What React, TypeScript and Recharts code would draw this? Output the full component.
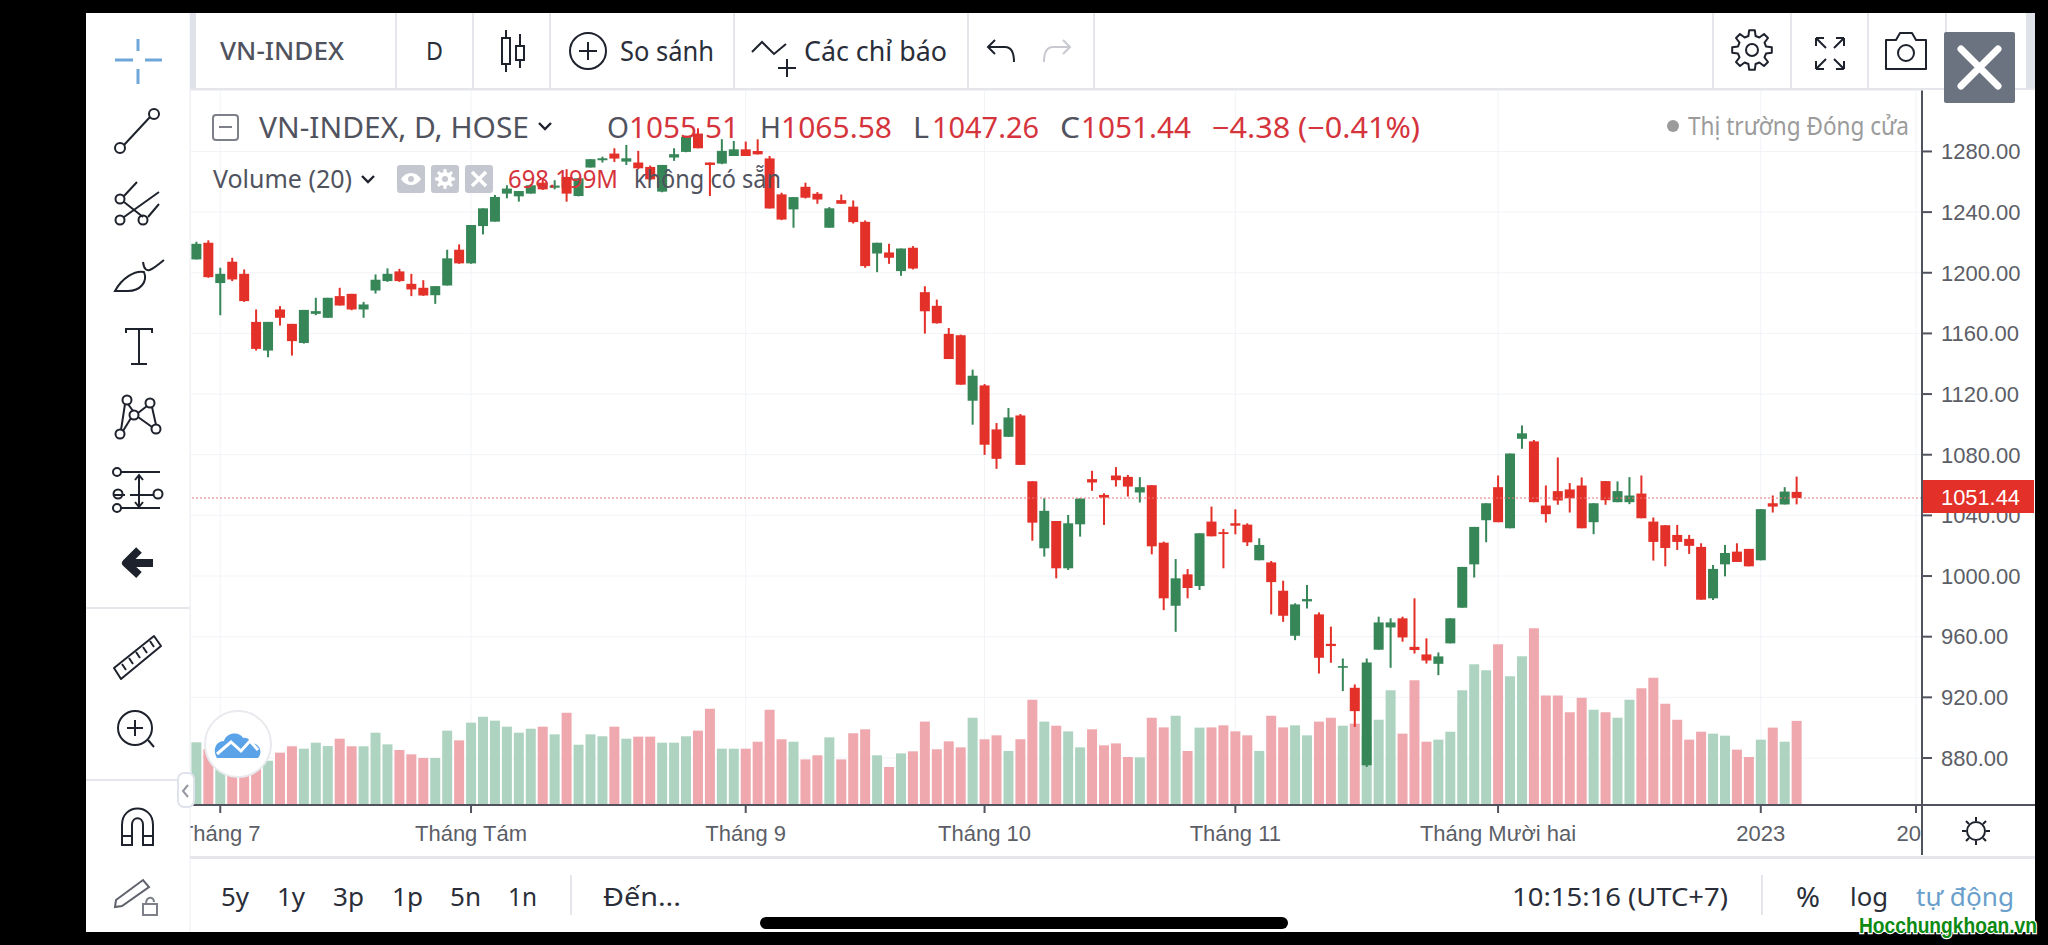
import { Bar, CartesianGrid, Cell, ComposedChart, ReferenceLine, XAxis, YAxis } from "recharts";

const opens = [
    1208.8, 1219.8, 1193.2, 1207.3, 1199.3, 1167.6, 1148.7, 1175.8, 1166.3, 1153.7,
    1172.9, 1170.3, 1184.6, 1186.1, 1175.8, 1188.3, 1194.5, 1200.9, 1192.7, 1190.1,
    1185.2, 1191.6, 1215.2, 1206.2, 1230.8, 1233.7, 1252.2, 1250.4, 1252.2, 1259.4,
    1256.1, 1263.2, 1250.6, 1269.4, 1274.2, 1278.6, 1273.3, 1272.7, 1269.8, 1253.5,
    1276, 1279.7, 1291.8, 1272.7, 1272, 1277, 1281.4, 1280.3, 1275.4, 1251.7,
    1241.8, 1256.7, 1252.1, 1229.7, 1247.9, 1243.6, 1233.6, 1212.7, 1213.4, 1201.1,
    1216.5, 1187.2, 1178.2, 1159.7, 1158.8, 1115.6, 1125.7, 1096.7, 1091.8, 1105.9,
    1062.5, 1018.3, 1036.3, 1005.1, 1034.1, 1063.9, 1053.5, 1066.3, 1065.4, 1055.1,
    1059.9, 1022, 980.4, 1001.1, 993.4, 1035.9, 1028.9, 1034.8, 1033.9, 1010.4,
    1009, 990.3, 960.6, 983.3, 974.7, 955.3, 939.5, 926.3, 875.2, 951.4,
    966.1, 972.1, 953.3, 948.3, 942.1, 955.6, 979.1, 1007.7, 1036.8, 1058.6,
    1031.5, 1090.5, 1088.8, 1046.5, 1056, 1057.1, 1059.7, 1035.5, 1062.6, 1048.7,
    1048.7, 1054.4, 1035.9, 1033.5, 1027.1, 1024.5, 1019.2, 985.3, 1007.7, 1016.1,
    1017.9, 1010.4, 1048, 1047.2, 1055.51,
];
const closes = [
    1219.1, 1197.1, 1199.3, 1195.6, 1181.3, 1149.8, 1167.6, 1170.3, 1154.9, 1175.5,
    1174.7, 1183.5, 1178.4, 1175.8, 1179.1, 1195.4, 1199.3, 1194.5, 1189, 1185,
    1191.2, 1209.5, 1206.2, 1231.5, 1242.5, 1250, 1255.5, 1253.9, 1257.7, 1255,
    1257.5, 1252.2, 1262.3, 1274.9, 1275.5, 1275.3, 1275.5, 1268.9, 1261.6, 1271.1,
    1278.2, 1289.6, 1282.1, 1271.1, 1280.4, 1281.4, 1277, 1278.1, 1242.4, 1235.1,
    1249.9, 1249.5, 1248.3, 1242.5, 1245.5, 1233.4, 1204.4, 1219.8, 1209.9, 1216,
    1202.8, 1174.6, 1166.7, 1143.1, 1126.2, 1132.1, 1086.6, 1077.3, 1104.6, 1073.3,
    1035.2, 1043, 1005.1, 1034.8, 1051.1, 1061.7, 1051.7, 1063.2, 1059, 1058.6,
    1019.6, 985.3, 998.5, 992.1, 1028.2, 1026.2, 1027.7, 1033.2, 1022.2, 1020.5,
    996, 973.8, 981.3, 984.8, 946.1, 953.8, 940.6, 910.9, 943, 969.4,
    969.4, 959.5, 951.2, 944.3, 947, 972.1, 1006, 1032.4, 1048, 1035.5,
    1080.8, 1094.1, 1048.7, 1040.8, 1049.8, 1051.3, 1031.5, 1048, 1050, 1056,
    1053.1, 1038.1, 1022.5, 1018.5, 1022.5, 1019.9, 984.4, 1004.7, 1015.2, 1009.3,
    1006.4, 1044.1, 1045.8, 1055.7, 1051.44,
];
const highs = [
    1220.5, 1221.4, 1203.3, 1209.9, 1202.2, 1175.8, 1167.6, 1178, 1166.3, 1175.5,
    1183.5, 1183.5, 1190.1, 1186.1, 1180.8, 1198.9, 1202.9, 1202.6, 1199.3, 1195.1,
    1191.2, 1215.2, 1218.7, 1231.5, 1242.5, 1251.3, 1257.7, 1253.9, 1258.3, 1261.6,
    1261, 1268.3, 1262.3, 1274.9, 1276.6, 1282.1, 1284.3, 1280.4, 1270.7, 1271.1,
    1282.1, 1290.3, 1295.3, 1272.7, 1288.1, 1286.9, 1286.5, 1288, 1277, 1252.8,
    1249.9, 1259.4, 1253.2, 1243.3, 1251.6, 1247.7, 1234.5, 1219.8, 1219.1, 1216,
    1217.6, 1191.1, 1182.3, 1163.6, 1159.2, 1136.1, 1126.6, 1100.9, 1110.8, 1106.8,
    1062.5, 1051.3, 1036.3, 1040.3, 1051.1, 1069.4, 1054.6, 1071.8, 1066.7, 1065.2,
    1059.9, 1022.7, 1011.2, 1004.6, 1028.2, 1045.8, 1031.1, 1044, 1034.8, 1024.9,
    1009.9, 996.9, 982, 994.1, 976, 966.6, 945.6, 928.5, 945.6, 973.2,
    972.1, 973.2, 985.3, 958.9, 949.6, 972.1, 1006, 1032.4, 1048, 1066.3,
    1080.8, 1099.3, 1089.7, 1059.7, 1078.2, 1061.3, 1065, 1048, 1062.6, 1062.4,
    1065.2, 1066.3, 1038.6, 1033.5, 1033.7, 1027.1, 1021.6, 1007.3, 1020.5, 1021.6,
    1017.9, 1044.1, 1053.1, 1058.6, 1065.58,
];
const lows = [
    1208.8, 1196.7, 1172, 1194.5, 1180.8, 1148.7, 1144.3, 1165.2, 1145.4, 1153.3,
    1172, 1170.3, 1178.4, 1175.3, 1170.3, 1186.3, 1194, 1194, 1184.6, 1184.8,
    1179.5, 1191.6, 1205.9, 1205.9, 1225.3, 1233.7, 1249.1, 1246.9, 1252.2, 1254.6,
    1255, 1246.9, 1250.4, 1269.4, 1272.7, 1273.1, 1271.1, 1268.3, 1261, 1253.1,
    1273.8, 1279.5, 1282.1, 1250.6, 1271.6, 1277, 1277, 1278, 1242.4, 1234.7,
    1229.7, 1249, 1245.5, 1229.7, 1245.5, 1232.5, 1203.3, 1200.4, 1205.9, 1198,
    1202.2, 1159.9, 1166.5, 1143.1, 1126.2, 1099.8, 1079.9, 1070.7, 1091.8, 1073.3,
    1023.3, 1012.8, 998.5, 1004, 1026, 1056.2, 1033.7, 1059, 1052.4, 1048.5,
    1014.3, 977.5, 963.2, 985.3, 990.8, 1026.2, 1005.1, 1027.5, 1019.8, 1010.4,
    974.7, 969.8, 957.7, 978.6, 935.7, 942.8, 924.1, 900.5, 874.1, 951.4,
    939.5, 956.7, 948.9, 942.3, 934.6, 955.6, 979.1, 999, 1022.3, 1035.5,
    1031.5, 1083.9, 1048.7, 1035.3, 1047, 1041.9, 1031.5, 1027.6, 1047, 1048.7,
    1047.4, 1038.1, 1010.2, 1006.4, 1017.2, 1014.6, 984.4, 984.2, 999.8, 1009.3,
    1006.4, 1010.4, 1041.9, 1047.2, 1047.26,
];
// millions of shares
const volumes = [
    521, 465, 438, 410, 410, 440, 368, 435, 488, 468,
    518, 490, 551, 488, 488, 601, 504, 457, 421, 391,
    391, 618, 537, 684, 734, 701, 651, 601, 634, 651,
    587, 767, 501, 587, 571, 651, 551, 568, 568, 518,
    518, 571, 618, 800, 468, 468, 468, 526, 792, 546,
    526, 379, 413, 562, 379, 596, 629, 413, 316, 429,
    446, 693, 463, 529, 479, 726, 546, 579, 449, 546,
    875, 693, 659, 612, 479, 629, 496, 512, 399, 396,
    726, 645, 742, 449, 643, 645, 662, 612, 579, 449,
    742, 645, 662, 579, 693, 726, 659, 676, 582, 709,
    953, 593, 1036, 526, 543, 609, 953, 1169, 1119, 1335,
    1069, 1235, 1468, 909, 909, 770, 892, 792, 770, 726,
    875, 970, 1058, 842, 709, 543, 609, 593, 576, 460,
    399, 543, 643, 526, 699,
];

const priceTicks = [880, 920, 960, 1000, 1040, 1080, 1120, 1160, 1200, 1240, 1280];
const monthTicks = [2, 23, 46, 66, 87, 109, 131, 144];
const monthLabels = ["Tháng 7", "Tháng Tám", "Tháng 9", "Tháng 10", "Tháng 11", "Tháng Mười hai", "2023", "20"];
const lastClose = 1051.44;
const slotCount = 145;

const UP = "#378658";
const DOWN = "#e33028";
const UP_VOL = "#aed4c1";
const DOWN_VOL = "#eea8ae";
const GRAY = "#50535e";
const RED_TEXT = "#d5343c";
const UI_FONT = "'Noto Sans', sans-serif";
const AXIS_FONT = "'Liberation Sans', Arial, sans-serif";

type Row = {
    day: number;
    open?: number;
    close?: number;
    high?: number;
    low?: number;
    range?: [number, number];
    volume?: number;
};

const rows: Row[] = Array.from({ length: slotCount }, (_, day) =>
    day < opens.length
        ? {
              day,
              open: opens[day],
              close: closes[day],
              high: highs[day],
              low: lows[day],
              range: [lows[day], highs[day]] as [number, number],
              volume: volumes[day],
          }
        : { day },
);

const Candle = (props: any) => {
    const { x, y, width, height, payload } = props;
    if (!payload || payload.open === undefined) return <g />;
    const { open, close, high, low } = payload;
    const pxPerPoint = Math.abs(height) / (high - low);
    const top = y + (high - Math.max(open, close)) * pxPerPoint;
    const bodyHeight = Math.max(Math.abs(open - close) * pxPerPoint, 1.5);
    const color = close >= open ? UP : DOWN;
    return (
        <g>
            <rect x={x + width / 2 - 1} y={y} width={2} height={Math.abs(height)} fill={color} />
            <rect x={x} y={top} width={width} height={bodyHeight} fill={color} />
        </g>
    );
};

const MonthTick = (props: any) => {
    const { x, y, payload } = props;
    const label = monthLabels[monthTicks.indexOf(payload.value)];
    const clipped = label === "20";
    return (
        <text
            x={clipped ? x + 5 : x}
            y={y + 26}
            textAnchor={clipped ? "end" : "middle"}
            fill="#5b5e66"
            fontSize={22}
            fontFamily={AXIS_FONT}
        >
            {label}
        </text>
    );
};

// text placed by left edge, centre line and target width
const T = ({
    x,
    y,
    w,
    s,
    fill = GRAY,
    size = 27,
    weight = 400,
    font = UI_FONT,
}: {
    x: number;
    y: number;
    w: number;
    s: string;
    fill?: string;
    size?: number;
    weight?: number;
    font?: string;
}) => (
    <text
        x={x}
        y={y}
        textLength={w}
        lengthAdjust="spacingAndGlyphs"
        dominantBaseline="central"
        fill={fill}
        fontSize={size}
        fontWeight={weight}
        fontFamily={font}
    >
        {s}
    </text>
);

const Chevron = ({ x, y }: { x: number; y: number }) => (
    <path d={`M${x - 6} ${y - 3}L${x} ${y + 3}L${x + 6} ${y - 3}`} fill="none" stroke="#1e222d" strokeWidth={2.4} />
);

const gearPath = (cx: number, cy: number, outer: number, inner: number, teeth: number) => {
    const parts: string[] = [];
    for (let i = 0; i < teeth; i++) {
        const step = (Math.PI * 2) / teeth;
        const a = i * step - Math.PI / 2;
        const pts: [number, number][] = [
            [inner, a - step * 0.32],
            [outer, a - step * 0.18],
            [outer, a + step * 0.18],
            [inner, a + step * 0.32],
        ];
        pts.forEach(([r, t]) => {
            parts.push(`${parts.length ? "L" : "M"}${(cx + r * Math.cos(t)).toFixed(1)} ${(cy + r * Math.sin(t)).toFixed(1)}`);
        });
    }
    return parts.join("") + "Z";
};

const LeftTools = () => (
    <g fill="none" stroke="#1e222d" strokeWidth={2}>
        <path d="M115 60H133M145 60H162M138 39V51M138 69V84" stroke="#6ea7d8" strokeWidth={3} />
        <circle cx={120} cy={148} r={5} />
        <circle cx={154} cy={114} r={5} />
        <path d="M124 145L150 117" />
        <circle cx={120} cy={199} r={4.5} />
        <circle cx={120} cy={220} r={4.5} />
        <circle cx={143} cy={220} r={4.5} />
        <path d="M124 196L137 182M124 217L159 192M148 217L159 204M124 202L143 217" />
        <path d="M115 291C122 278 135 270 144 272C148 282 140 291 128 291ZM143 262C145 276 152 270 164 260" />
        <path d="M126 333V329H152V333M139 329V364M131 364H147" />
        <circle cx={127} cy={400} r={4.5} />
        <circle cx={150} cy={403} r={4.5} />
        <circle cx={134} cy={415} r={4.5} />
        <circle cx={120} cy={434} r={4.5} />
        <circle cx={156} cy={429} r={4.5} />
        <path d="M125 404L121 430M128 404L133 411M138 413L147 406M152 407L156 425M138 417L152 427M131 418L123 431" />
        <path d="M120 472H160M125 495H114M130 495H154M120 508H160" />
        <circle cx={117} cy={472} r={4} />
        <circle cx={118} cy={494} r={4.5} />
        <circle cx={158} cy={494} r={4.5} />
        <circle cx={117} cy={508} r={4} />
        <path d="M139 476V506M135 480L139 475L143 480M135 502L139 507L143 502" />
        <path d="M126 563H153M139 550L126 563L139 575" strokeWidth={8} strokeLinejoin="round" />
        <path d="M114 668L154 636L161 646L121 679Z" strokeLinejoin="round" />
        <path d="M122 664L126 670M129 658L133 664M136 652L140 658M143 647L147 653M150 641L154 647" />
        <circle cx={135} cy={728} r={17} />
        <path d="M127 728H143M135 720V736M148 740L154 747" />
        <path d="M122 845V825C122 803 153 803 153 825V845H143V825C143 816 132 816 132 825V845Z" />
        <path d="M122 836H132M143 836H153" />
        <path d="M116 900L143 880L149 887L122 906L115 907Z" stroke="#5f626b" />
        <rect x={143} y={904} width={14} height={11} stroke="#7d8088" />
        <path d="M146 904C146 896 154 896 154 902" stroke="#7d8088" />
    </g>
);

const TopBar = () => (
    <g>
        <rect x={190} y={13} width={6} height={76} fill="#dfe2e8" />
        <rect x={2026} y={13} width={9} height={76} fill="#dfe2e8" />
        <path
            d="M190 89H2035M396 13V89M473 13V89M550 13V89M734 13V89M968 13V89M1094 13V89M1713 13V89M1791 13V89M1868 13V89M1946 13V89"
            stroke="#e4e6eb"
            strokeWidth={2}
        />
        <T x={220} y={50} w={124} s="VN-INDEX" fill={GRAY} size={26} weight={500} />
        <T x={426} y={50} w={17} s="D" fill="#2a2e39" size={26} />
        <g fill="none" stroke="#1e222d" strokeWidth={2}>
            <rect x={502} y={38} width={8} height={26} />
            <path d="M506 30V38M506 64V72M520 34V46M520 60V68" />
            <rect x={516} y={46} width={8} height={14} />
            <circle cx={588} cy={51} r={18} />
            <path d="M579 51H597M588 42V60" />
            <path d="M752 52L762 42L774 54L786 44M778 68H796M787 59V77" />
            <path d="M995 40L988 47L995 54M988 47H1005C1012 47 1014 54 1014 62" />
            <path d="M1063 40L1070 47L1063 54M1070 47H1053C1046 47 1044 54 1044 62" stroke="#c8cad0" />
            <circle cx={1752} cy={50} r={6} />
            <path d={gearPath(1752, 50, 20, 14.5, 8)} strokeLinejoin="round" />
            <path d="M1816 38H1824M1816 38V46M1816 38L1826 48M1844 38H1836M1844 38V46M1844 38L1834 48M1816 69H1824M1816 69V61M1816 69L1826 59M1844 69H1836M1844 69V61M1844 69L1834 59" />
            <path d="M1886 40H1896L1900 33H1912L1916 40H1926V69H1886Z" strokeLinejoin="round" />
            <circle cx={1906} cy={53} r={8} />
        </g>
        <T x={620} y={50} w={94} s="So sánh" fill="#2a2e39" />
        <T x={804} y={50} w={143} s="Các chỉ báo" fill="#2a2e39" />
    </g>
);

const Legend = () => (
    <g>
        <rect x={213} y={115} width={25} height={25} rx={3} fill="#ffffff" fillOpacity={0.6} stroke="#7d8088" strokeWidth={2} />
        <path d="M219 127H232" stroke="#7d8088" strokeWidth={2} />
        <T x={259} y={126} w={270} s="VN-INDEX, D, HOSE" size={29} />
        <Chevron x={545} y={126} />
        <T x={607} y={126} w={22} s="O" size={29} />
        <T x={629} y={126} w={110} s="1055.51" fill={RED_TEXT} size={29} />
        <T x={760} y={126} w={21} s="H" size={29} />
        <T x={781} y={126} w={111} s="1065.58" fill={RED_TEXT} size={29} />
        <T x={913} y={126} w={16} s="L" size={29} />
        <T x={932} y={126} w={107} s="1047.26" fill={RED_TEXT} size={29} />
        <T x={1060} y={126} w={20} s="C" size={29} />
        <T x={1081} y={126} w={110} s="1051.44" fill={RED_TEXT} size={29} />
        <T x={1212} y={126} w={208} s="−4.38 (−0.41%)" fill={RED_TEXT} size={29} />
        <T x={213} y={178} w={139} s="Volume (20)" size={25} />
        <Chevron x={368} y={179} />
        <rect x={397} y={165} width={28} height={28} rx={3} fill="#c4c7cf" />
        <rect x={431} y={165} width={28} height={28} rx={3} fill="#c4c7cf" />
        <rect x={465} y={165} width={28} height={28} rx={3} fill="#c4c7cf" />
        <path d="M401 179C406 171 416 171 421 179C416 187 406 187 401 179Z" fill="#ffffff" />
        <circle cx={411} cy={179} r={3} fill="#c4c7cf" />
        <path d={gearPath(445, 179, 10, 7, 8)} fill="#ffffff" />
        <circle cx={445} cy={179} r={3} fill="#c4c7cf" />
        <path d="M472 172L486 186M486 172L472 186" stroke="#ffffff" strokeWidth={3.5} />
        <T x={508} y={178} w={110} s="698.199M" fill={RED_TEXT} size={25} />
        <T x={634} y={178} w={147} s="không có sẵn" size={25} />
        <circle cx={1673} cy={126} r={6} fill="#9b9b9b" />
        <T x={1688} y={125} w={221} s="Thị trường Đóng cửa" fill="#9b9b9b" size={25} />
    </g>
);

const PriceTag = () => (
    <g>
        <rect x={1923} y={480} width={111} height={33} fill={DOWN} />
        <T x={1941} y={497} w={79} s="1051.44" fill="#ffffff" size={22} font={AXIS_FONT} />
    </g>
);

const BottomBar = () => {
    const ranges: [string, number, number][] = [
        ["5y", 221, 28],
        ["1y", 277, 28],
        ["3p", 333, 31],
        ["1p", 392, 31],
        ["5n", 450, 31],
        ["1n", 508, 29],
    ];
    return (
        <g>
            <rect x={190} y={856} width={1845} height={3} fill="#e4e6eb" />
            <path d="M571 875V915M1762 875V915" stroke="#e4e6eb" strokeWidth={2} />
            {ranges.map(([s, x, w]) => (
                <T key={s} x={x} y={896} w={w} s={s} fill="#2a2e39" size={26} />
            ))}
            <T x={603} y={896} w={78} s="Đến..." fill="#2a2e39" size={26} />
            <T x={1512} y={896} w={216} s="10:15:16 (UTC+7)" fill="#2a2e39" size={26} />
            <T x={1796} y={896} w={24} s="%" fill="#2a2e39" size={28} />
            <T x={1850} y={896} w={38} s="log" fill="#2a2e39" size={26} />
            <T x={1916} y={896} w={98} s="tự động" fill="#6a9fcc" size={26} />
            <rect x={760} y={917} width={528} height={12} rx={6} fill="#000000" />
            <text
                x={1859}
                y={925}
                textLength={178}
                lengthAdjust="spacingAndGlyphs"
                dominantBaseline="central"
                fill="#0c8a12"
                stroke="#ffffff"
                strokeWidth={2.5}
                paintOrder="stroke"
                fontSize={22}
                fontWeight={700}
                fontFamily={AXIS_FONT}
            >
                Hocchungkhoan.vn
            </text>
        </g>
    );
};

const Overlay = () => (
    <svg width={2048} height={945} style={{ position: "absolute", left: 0, top: 0 }}>
        <rect x={86} y={13} width={104} height={919} fill="#ffffff" />
        <path d="M86 608H190M86 780H190" stroke="#e4e6eb" strokeWidth={2} />
        <path d="M190 13V932" stroke="#eceef2" strokeWidth={1} />
        <LeftTools />
        <TopBar />
        <Legend />
        <path d="M1922 805H2035M1922 805V855" stroke={GRAY} strokeWidth={2} />
        <PriceTag />
        <g fill="none" stroke="#1e222d" strokeWidth={2}>
            <circle cx={1976} cy={831} r={9} />
            <path d="M1976 817V821M1976 841V845M1962 831H1966M1986 831H1990M1966 821L1969 824M1983 838L1986 841M1966 841L1969 838M1983 824L1986 821" />
        </g>
        <rect x={178} y={773} width={16} height={34} rx={6} fill="#ffffff" stroke="#e0e3eb" strokeWidth={2} />
        <path d="M188 785L183 791L188 797" fill="none" stroke="#9598a1" strokeWidth={2} />
        <circle cx={238} cy={744} r={33} fill="#ffffff" stroke="#e8eaee" strokeWidth={2} />
        <path
            d="M217 758C212 750 216 741 224 741C226 732 240 731 243 738C248 737 250 741 252 743C260 744 263 752 258 758Z"
            fill="#5aa3e8"
        />
        <path d="M217 754L231 742L241 751L250 741L258 750" fill="none" stroke="#ffffff" strokeWidth={3} />
        <BottomBar />
        <rect x={1944} y={32} width={71} height={71} rx={2} fill="#6b7280" />
        <path d="M1961 49L1998 86M1998 49L1961 86" stroke="#ffffff" strokeWidth={7} strokeLinecap="round" />
    </svg>
);

const App = () => (
    <div style={{ position: "absolute", left: 0, top: 0, width: 2048, height: 945, background: "#000000", overflow: "hidden" }}>
        <div style={{ position: "absolute", left: 86, top: 13, width: 1949, height: 919, background: "#ffffff" }} />
        <div style={{ position: "absolute", left: 0, top: 0 }}>
            <ComposedChart
                width={2048}
                height={945}
                data={rows}
                margin={{ top: 90.5, right: 13, bottom: 90, left: 190.4 }}
                barCategoryGap={0}
            >
                <CartesianGrid stroke="#f1f3f7" strokeWidth={1} />
                <XAxis
                    dataKey="day"
                    type="category"
                    ticks={monthTicks}
                    interval={0}
                    height={50}
                    tick={<MonthTick />}
                    tickSize={8}
                    tickLine={{ stroke: GRAY, strokeWidth: 2 }}
                    axisLine={{ stroke: GRAY, strokeWidth: 2 }}
                />
                <XAxis dataKey="day" type="category" xAxisId="vol" hide />
                <YAxis
                    orientation="right"
                    type="number"
                    domain={[849, 1320.2]}
                    allowDataOverflow
                    ticks={priceTicks}
                    interval={0}
                    width={113}
                    tickSize={10}
                    tickMargin={9}
                    tickFormatter={(value: number) => value.toFixed(2)}
                    tick={{ fill: "#5b5e66", fontSize: 22, fontFamily: AXIS_FONT }}
                    tickLine={{ stroke: GRAY, strokeWidth: 2 }}
                    axisLine={{ stroke: GRAY, strokeWidth: 2 }}
                />
                <YAxis yAxisId="vol" type="number" domain={[0, 5937]} hide />
                <Bar dataKey="volume" xAxisId="vol" yAxisId="vol" barSize={10} isAnimationActive={false}>
                    {rows.map((row) => (
                        <Cell key={row.day} fill={(row.close ?? 0) >= (row.open ?? 0) ? UP_VOL : DOWN_VOL} />
                    ))}
                </Bar>
                <ReferenceLine y={lastClose} stroke="#e8747a" strokeWidth={1} strokeDasharray="2 2" />
                <Bar dataKey="range" barSize={10} shape={<Candle />} isAnimationActive={false} />
            </ComposedChart>
        </div>
        <Overlay />
    </div>
);

export default App;
